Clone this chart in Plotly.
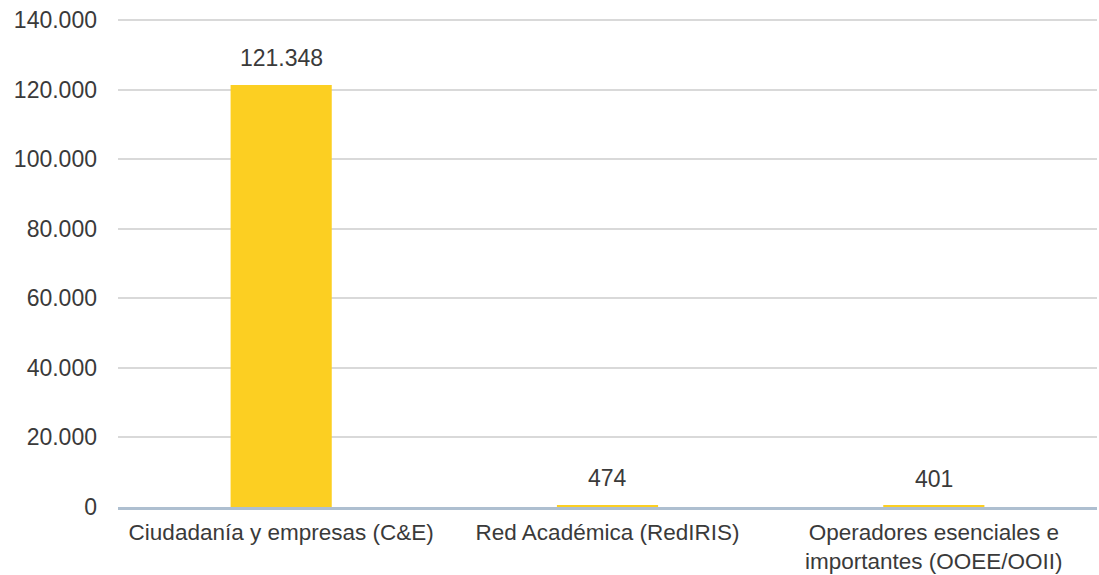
import plotly.graph_objects as go

categories = ["Ciudadanía y empresas (C&E)", "Red Académica (RedIRIS)",
              "Operadores esenciales e<br>importantes (OOEE/OOII)"]
values = [121348, 474, 401]
tick_vals = [0, 20000, 40000, 60000, 80000, 100000, 120000, 140000]
labels = [f"{v:,}".replace(",", ".") for v in values]

FAM = "Liberation Sans, Arial, sans-serif"
font = dict(family=FAM, size=23, color="#3a3a3a")
xfont = dict(family=FAM, size=22.5, color="#3a3a3a")

fig = go.Figure(go.Bar(
    x=categories, y=values,
    marker=dict(color="#FCCF22", line=dict(width=0)),
    width=0.31,
    hoverinfo="skip",
))

for c, v, t in zip(categories, values, labels):
    fig.add_annotation(x=c, y=v, text=t, showarrow=False, yanchor="bottom",
                       yshift=12, font=dict(family=FAM, size=23, color="#3a3a3a"))

fig.update_layout(
    width=1099, height=575,
    margin=dict(l=118, r=2, t=19, b=68),
    paper_bgcolor="white", plot_bgcolor="white",
    separators=",.",
    font=font,
    showlegend=False,
)
fig.update_yaxes(range=[0, 140300], tickvals=tick_vals, tickformat=",d",
                 showgrid=True, gridcolor="#d9d9d9", gridwidth=1.5,
                 zeroline=False, showline=False, ticks="", ticklabelstandoff=20,
                 tickfont=font, automargin=False, ticklabeloverflow="allow")
fig.update_xaxes(showline=True, linecolor="#aebfd0", linewidth=2.5,
                 showgrid=False, ticks="", tickfont=xfont, ticklabelstandoff=3,
                 automargin=False, ticklabeloverflow="allow")

fig.write_html("out.html",
               config={"displayModeBar": False},
               post_script="document.body.style.margin='0';document.body.style.overflow='hidden';")
